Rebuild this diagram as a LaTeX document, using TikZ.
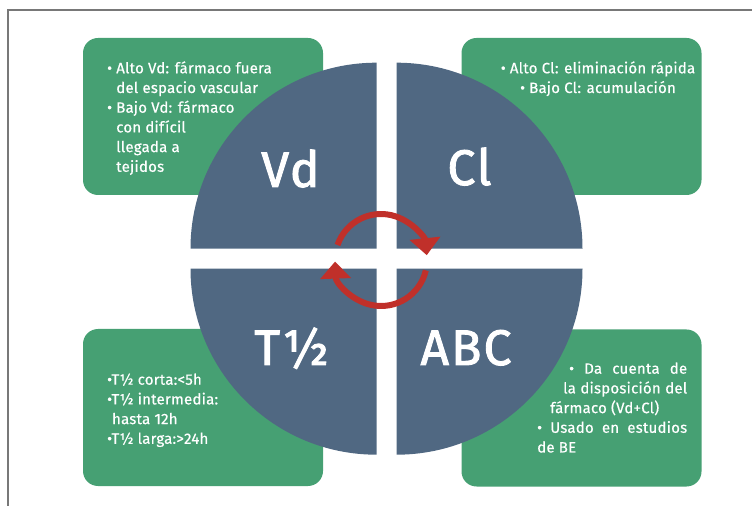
\documentclass[tikz,border=0pt]{standalone}
\usepackage{fontspec}
\setmainfont[FakeBold=0.5, LetterSpace=1.5]{Fira Sans}
\newfontfamily\heavyfont[FakeBold=1.8, LetterSpace=4]{Fira Sans}
\usetikzlibrary{arrows.meta}
\definecolor{slateblue}{RGB}{80,104,130}
\definecolor{leafgreen}{RGB}{70,160,115}
\definecolor{arrowred}{RGB}{192,48,42}
\definecolor{framegray}{RGB}{120,120,120}

\begin{document}
\begin{tikzpicture}[x=1pt, y=1pt,
    every node/.style={font=\fontsize{15}{19.7}\selectfont, text=white, inner sep=0pt},
    greenbox/.style={fill=leafgreen, rounded corners=15pt, minimum width=240pt, minimum height=157pt},
    quarter/.style={fill=slateblue},
    biglabel/.style={font=\heavyfont\fontsize{50}{60}\selectfont, anchor=base},
    cycarrow/.style={draw=arrowred, line width=6pt, -{Triangle[width=30pt,length=17pt]}}]
    \useasboundingbox (0,0) rectangle (752,506);
    \draw[framegray, line width=1.5pt] (752,496) -- (8,496) -- (8,0);
    % boxes behind the disc
    \node[greenbox] (vdbox) at (203,389.5) {};
    \node[greenbox] (clbox) at (581.5,389.5) {};
    \node[greenbox] (thalfbox) at (203,98.5) {};
    \node[greenbox] (abcbox) at (581.5,98) {};
    % four quarters
    \fill[quarter] (376.5,257.3) -- ++(-186,0) arc[start angle=180, end angle=90, radius=186pt] -- cycle;
    \fill[quarter] (396.5,257.3) -- ++(0,186) arc[start angle=90, end angle=0, radius=186pt] -- cycle;
    \fill[quarter] (376.5,237.3) -- ++(0,-186) arc[start angle=270, end angle=180, radius=186pt] -- cycle;
    \fill[quarter] (396.5,237.3) -- ++(186,0) arc[start angle=0, end angle=-90, radius=186pt] -- cycle;
    % cycle arrows
    \draw[cycarrow] (381,246) ++(161:46pt) arc[start angle=161, end angle=6, radius=46pt];
    \draw[cycarrow] (381,246) ++(-13:46pt) arc[start angle=-13, end angle=-178, radius=46pt];
    \node[biglabel] (vd) at (290.5,319) {Vd};
    \node[biglabel] (cl) at (469.5,321) {Cl};
    \node[biglabel] (thalf) at (291.5,141) {T½};
    \node[biglabel] (abc) at (466,141) {ABC};
    % box texts (base = last line)
    \node[anchor=base west, align=left] (vdtext) at (107,334.2) {• Alto Vd: fármaco fuera\\\phantom{• }del espacio vascular\\• Bajo Vd: fármaco\\\phantom{• }con difícil\\\phantom{• }llegada a\\\phantom{• }tejidos};
    \node[anchor=base, align=center] (cltext) at (598,413) {• Alto Cl: eliminación rápida\\• Bajo Cl: acumulación};
    \node[anchor=base west, align=left] (thalftext) at (107,62.2) {•T½ corta:<5h\\•T½ intermedia:\\\phantom{•}hasta 12h\\•T½ larga:>24h};
    \node[anchor=base west, align=left] (abctext) at (537,53.5) {\hspace*{32pt}\makebox[118pt][s]{• Da cuenta de}\\\hspace*{26pt}\makebox[124pt][s]{la disposición del}\\\hspace*{13pt}fármaco (Vd+Cl)\\\makebox[150pt][s]{• Usado en estudios}\\de BE};
\end{tikzpicture}
\end{document}
